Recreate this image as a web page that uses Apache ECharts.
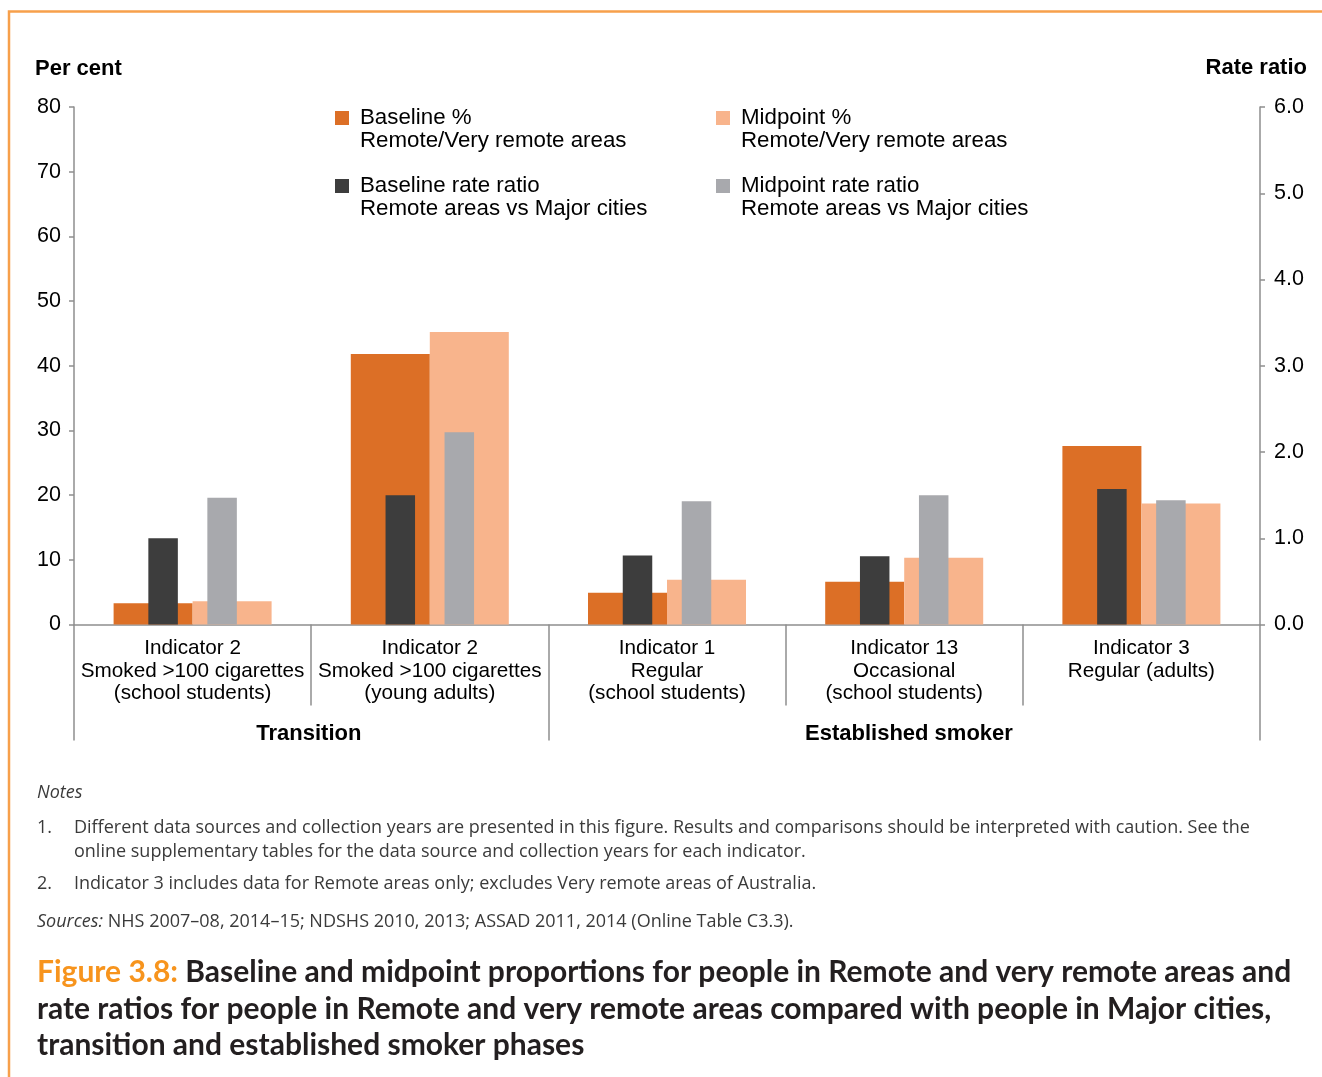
<!DOCTYPE html>
<html>
<head>
<meta charset="utf-8">
<script src="https://cdn.jsdelivr.net/npm/echarts@6/dist/echarts.min.js"></script>
<style>
html,body{margin:0;padding:0;background:#fff;}
#chart{width:1322px;height:1077px;}
</style>
</head>
<body>
<div id="chart"></div>
<script>
// ---- data ----
var categories = [
  'Indicator 2\nSmoked >100 cigarettes\n(school students)',
  'Indicator 2\nSmoked >100 cigarettes\n(young adults)',
  'Indicator 1\nRegular\n(school students)',
  'Indicator 13\nOccasional\n(school students)',
  'Indicator 3\nRegular (adults)'
];
var seriesNames = [
  'Baseline %\nRemote/Very remote areas',
  'Midpoint %\nRemote/Very remote areas',
  'Baseline rate ratio\nRemote areas vs Major cities',
  'Midpoint rate ratio\nRemote areas vs Major cities'
];
var baselinePct = [3.3, 41.8, 4.9, 6.6, 27.6];
var midpointPct = [3.6, 45.2, 6.9, 10.3, 18.7];
var baselineRR  = [1.0, 1.5, 0.8, 0.79, 1.57];
var midpointRR  = [1.47, 2.23, 1.43, 1.5, 1.44];
var groupNames = ['Transition', 'Established smoker'];
var groupBounds = [0, 2, 5];
var groupCentres = [0.99, 3.52];
var pctTicks = {min: 0, max: 80, interval: 10};
var rrTicks = {min: 0, max: 6, interval: 1};

// ---- styles ----
var FONT = '"Liberation Sans", Arial, sans-serif';
var AX = '#8e8e8e';
var colors = ['#DC6F26', '#F8B48C', '#3D3D3D', '#A8A9AD'];
var NOTE_FONT = '"Open Sans", sans-serif';
var TITLE_FONT = 'Lato, "Open Sans", sans-serif';
var NOTE_COL = '#3a3a3a';

var chart = echarts.init(document.getElementById('chart'), null, {renderer: 'canvas'});

var legendIcon = 'path://M0,0H14V14H0Z M19.9,36.9H20V37H19.9Z';
function legendAt(name, left, top) {
  return {
    data: [name], left: left, top: top, padding: 0, orient: 'horizontal',
    icon: legendIcon, itemWidth: 20, itemHeight: 37, selectedMode: false,
    textStyle: {fontFamily: FONT, fontSize: 22.3, lineHeight: 23, color: '#000'}
  };
}
function note(text, x, y, style) {
  return {type: 'text', x: x, y: y, silent: true,
    style: Object.assign({text: text, font: '18px ' + NOTE_FONT, fill: NOTE_COL, verticalAlign: 'middle'}, style || {})};
}

var option = {
  backgroundColor: '#fff',
  animation: false,
  title: [
    {text: 'Per cent', left: 35, top: 58, padding: 0,
     textStyle: {fontFamily: FONT, fontSize: 22, fontWeight: 'bold', color: '#000'}},
    {text: 'Rate ratio', right: 15, top: 57, padding: 0,
     textStyle: {fontFamily: FONT, fontSize: 22, fontWeight: 'bold', color: '#000'}}
  ],
  legend: [
    legendAt(seriesNames[0], 335, 106.5),
    legendAt(seriesNames[1], 716, 106.5),
    legendAt(seriesNames[2], 335, 174.5),
    legendAt(seriesNames[3], 716, 174.5)
  ],
  grid: {left: 74, right: 62, top: 107, bottom: 452.5, containLabel: false},
  xAxis: [
    {
      type: 'category', data: categories, position: 'bottom',
      axisLine: {show: true, lineStyle: {color: AX, width: 1.5}},
      axisTick: {show: true, length: 81, lineStyle: {color: AX, width: 1.5}},
      axisLabel: {interval: 0, fontFamily: FONT, fontSize: 20.7, lineHeight: 22.5, color: '#000', margin: 13}
    },
    {
      type: 'category', data: categories, show: false
    },
    {
      type: 'value', min: 0, max: 5, position: 'bottom',
      axisLine: {show: false}, splitLine: {show: false},
      axisTick: {show: true, customValues: groupBounds, length: 116, lineStyle: {color: AX, width: 1.5}},
      axisLabel: {show: true, customValues: groupCentres, margin: 98,
        fontFamily: FONT, fontSize: 22, fontWeight: 'bold', color: '#000',
        formatter: function (v) { return v < 2 ? groupNames[0] : groupNames[1]; }}
    }
  ],
  yAxis: [
    {
      type: 'value', min: pctTicks.min, max: pctTicks.max, interval: pctTicks.interval, position: 'left',
      axisLine: {show: true, lineStyle: {color: AX, width: 1.5}},
      axisTick: {show: true, length: 5, lineStyle: {color: AX, width: 1.5}},
      splitLine: {show: false},
      axisLabel: {fontFamily: FONT, fontSize: 21.5, color: '#000', margin: 13}
    },
    {
      type: 'value', min: rrTicks.min, max: rrTicks.max, interval: rrTicks.interval, position: 'right',
      axisLine: {show: true, lineStyle: {color: AX, width: 1.5}},
      axisTick: {show: true, length: 5, lineStyle: {color: AX, width: 1.5}},
      splitLine: {show: false},
      axisLabel: {fontFamily: FONT, fontSize: 21.5, color: '#000', margin: 14,
        formatter: function (v) { return v.toFixed(1); }}
    }
  ],
  series: [
    {name: seriesNames[0], type: 'bar', xAxisIndex: 0, yAxisIndex: 0, data: baselinePct,
     barWidth: 79, barGap: '0%', itemStyle: {color: colors[0]}},
    {name: seriesNames[1], type: 'bar', xAxisIndex: 0, yAxisIndex: 0, data: midpointPct,
     barWidth: 79, barGap: '0%', itemStyle: {color: colors[1]}},
    {name: seriesNames[2], type: 'bar', xAxisIndex: 1, yAxisIndex: 1, data: baselineRR,
     barWidth: 29.5, barGap: '100%', itemStyle: {color: colors[2]}},
    {name: seriesNames[3], type: 'bar', xAxisIndex: 1, yAxisIndex: 1, data: midpointRR,
     barWidth: 29.5, barGap: '100%', itemStyle: {color: colors[3]}}
  ],
  graphic: [
    {type: 'polyline', silent: true,
     shape: {points: [[9, 1077], [9, 11.5], [1322, 11.5]]},
     style: {stroke: '#F7A04B', lineWidth: 2.5, fill: null}},
    note('Notes', 37, 793, {font: 'italic 18px ' + NOTE_FONT}),
    note('1.', 37, 828),
    note('Different data sources and collection years are presented in this figure. Results and comparisons should be interpreted with caution. See the', 74, 828),
    note('online supplementary tables for the data source and collection years for each indicator.', 74, 852),
    note('2.', 37, 884),
    note('Indicator 3 includes data for Remote areas only; excludes Very remote areas of Australia.', 74, 884),
    note('{i|Sources:} NHS 2007–08, 2014–15; NDSHS 2010, 2013; ASSAD 2011, 2014 (Online Table C3.3).', 37, 922,
      {rich: {i: {fontStyle: 'italic', fontFamily: NOTE_FONT, fontSize: 18, fill: NOTE_COL}}}),
    {type: 'text', x: 37, y: 972, silent: true,
     style: {text: '{o|Figure 3.8:}{d| Baseline and midpoint proportions for people in Remote and very remote areas and}',
       font: 'bold 30px ' + TITLE_FONT, fill: '#231F20', verticalAlign: 'middle',
       rich: {
         o: {fontWeight: 'bold', fontFamily: TITLE_FONT, fontSize: 30, fill: '#F7941D'},
         d: {fontWeight: 'bold', fontFamily: TITLE_FONT, fontSize: 30, fill: '#231F20'}
       }}},
    {type: 'text', x: 37, y: 1009, silent: true,
     style: {text: 'rate ratios for people in Remote and very remote areas compared with people in Major cities,',
       font: 'bold 30px ' + TITLE_FONT, fill: '#231F20', verticalAlign: 'middle'}},
    {type: 'text', x: 37, y: 1045, silent: true,
     style: {text: 'transition and established smoker phases',
       font: 'bold 30px ' + TITLE_FONT, fill: '#231F20', verticalAlign: 'middle'}}
  ]
};
chart.setOption(option);
</script>
</body>
</html>
